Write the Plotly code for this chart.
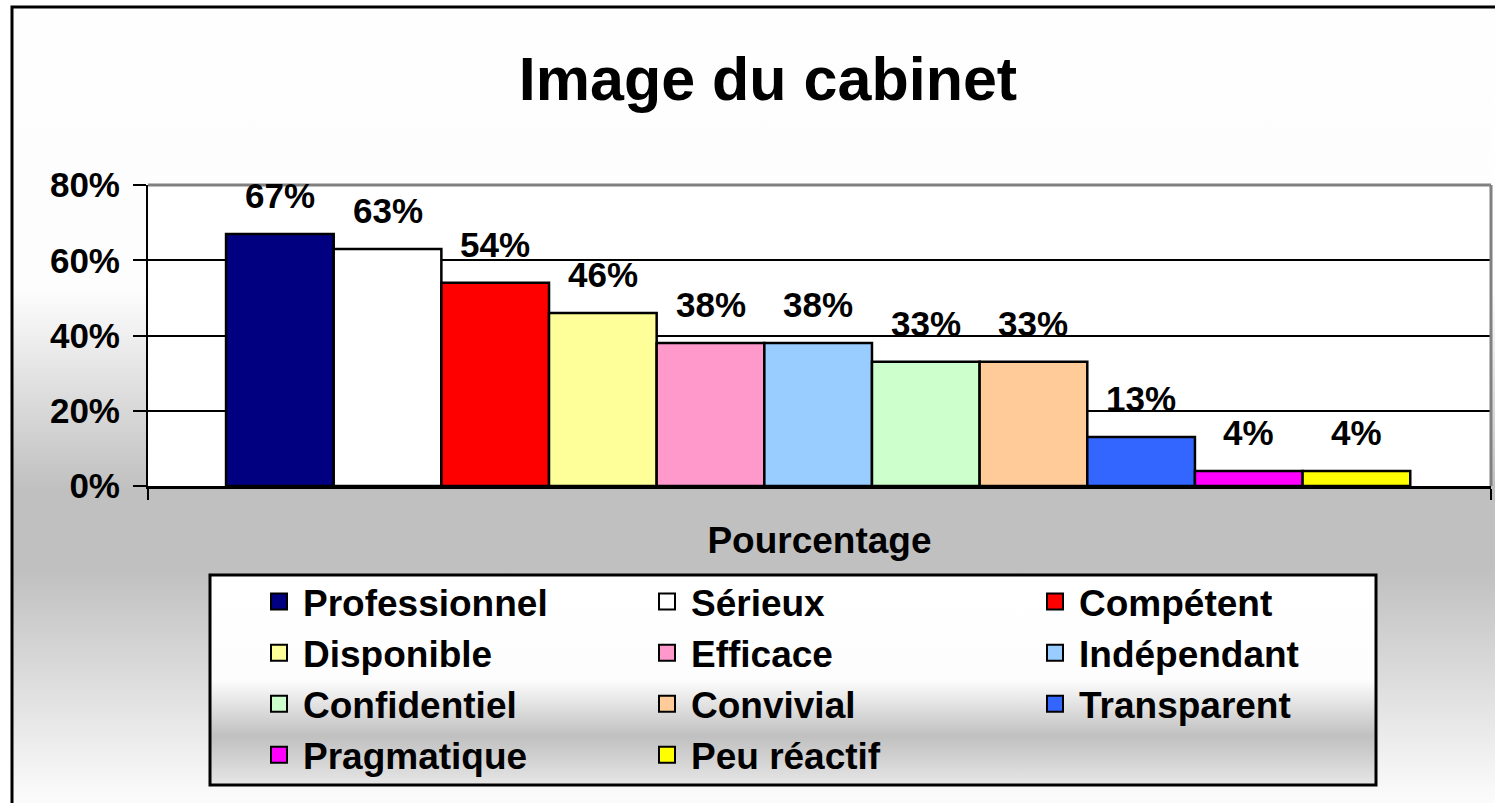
import base64
import plotly.graph_objects as go

# ---------------- data ----------------
categories = ["Professionnel", "Sérieux", "Compétent", "Disponible", "Efficace",
              "Indépendant", "Confidentiel", "Convivial", "Transparent",
              "Pragmatique", "Peu réactif"]
values = [0.67, 0.63, 0.54, 0.46, 0.38, 0.38, 0.33, 0.33, 0.13, 0.04, 0.04]
colors = ["#000080", "#FFFFFF", "#FF0000", "#FFFF99", "#FF99CC", "#99CCFF",
          "#CCFFCC", "#FFCC99", "#3366FF", "#FF00FF", "#FFFF00"]
y_tickvals = [0, 0.2, 0.4, 0.6, 0.8]
y_ticktext = ["0%", "20%", "40%", "60%", "80%"]
x_title = "Pourcentage"
chart_title = "Image du cabinet"

# ---------------- layout geometry (pixels) ----------------
W, H = 1495, 803
PL, PR, PT, PB = 148, 1491, 185, 486   # plot area edges
pw, ph = PR - PL, PB - PT
FONT = "Liberation Sans, Arial, sans-serif"


def px_x(x):
    return (x - PL) / pw


def px_y(y):
    return (PB - y) / ph


# background: framed gradient, white plot area, gradient legend box
svg = f'''<svg xmlns="http://www.w3.org/2000/svg" width="{W}" height="{H}" viewBox="0 0 {W} {H}" preserveAspectRatio="none">
<defs>
<linearGradient id="pg" gradientUnits="userSpaceOnUse" x1="0" y1="0" x2="0" y2="{H}">
<stop offset="0" stop-color="#fefefe"/>
<stop offset="{290/H:.4f}" stop-color="#fdfdfd"/>
<stop offset="{490/H:.4f}" stop-color="#c0c0c0"/>
<stop offset="{570/H:.4f}" stop-color="#c0c0c0"/>
<stop offset="{790/H:.4f}" stop-color="#f9f9f9"/>
<stop offset="1" stop-color="#fbfbfb"/>
</linearGradient>
<linearGradient id="lg" gradientUnits="userSpaceOnUse" x1="0" y1="575" x2="0" y2="785">
<stop offset="0" stop-color="#ffffff"/>
<stop offset="{(680-575)/210:.4f}" stop-color="#fdfdfd"/>
<stop offset="{(736-575)/210:.4f}" stop-color="#c0c0c0"/>
<stop offset="1" stop-color="#e6e6e6"/>
</linearGradient>
</defs>
<rect x="0" y="0" width="{W}" height="{H}" fill="#ffffff"/>
<rect x="12" y="7" width="1700" height="1000" fill="url(#pg)" stroke="#000000" stroke-width="3"/>
<rect x="{PL}" y="{PT}" width="{pw}" height="{ph}" fill="#ffffff"/>
<rect x="210" y="575" width="1166" height="210" fill="url(#lg)" stroke="#000000" stroke-width="3"/>
</svg>'''
bg_src = "data:image/svg+xml;base64," + base64.b64encode(svg.encode("utf-8")).decode("ascii")

fig = go.Figure()

# bars (one trace per category, as in the original series layout)
for cat, val, col in zip(categories, values, colors):
    fig.add_trace(go.Bar(
        x=[cat], y=[val], name=cat, showlegend=False,
        marker=dict(color=col, line=dict(color="black", width=2.5)),
        hoverinfo="skip",
    ))

# legend entries (square swatches)
for cat, col in zip(categories, colors):
    fig.add_trace(go.Scatter(
        x=[None], y=[None], mode="markers", name=cat,
        marker=dict(symbol="square", size=16, color=col,
                    line=dict(color="black", width=2)),
        hoverinfo="skip",
    ))

# value labels
annotations = []
for cat, val in zip(categories, values):
    annotations.append(dict(
        x=cat, y=val, xref="x", yref="y", text=f"{val:.0%}",
        showarrow=False, yanchor="bottom", yshift=17,
        font=dict(family=FONT, size=35, color="black", weight="bold"),
    ))

fig.update_layout(
    width=W, height=H,
    margin=dict(l=PL, r=W - PR, t=PT, b=H - PB, pad=0),
    paper_bgcolor="white",
    plot_bgcolor="rgba(0,0,0,0)",
    barmode="overlay",
    bargap=0,
    font=dict(family=FONT, color="black"),
    title=dict(text=chart_title, x=768 / W, xref="container", xanchor="center",
               y=1 - 79 / H, yref="container", yanchor="middle",
               font=dict(family=FONT, size=61, color="black", weight="bold")),
    showlegend=True,
    legend=dict(orientation="h", x=px_x(255), xanchor="left",
                y=px_y(571), yanchor="top",
                bgcolor="rgba(0,0,0,0)", borderwidth=0,
                itemwidth=38, entrywidth=335, entrywidthmode="pixels",
                traceorder="normal",
                font=dict(family=FONT, size=37, color="black", weight="bold")),
    images=[dict(source=bg_src, xref="paper", yref="paper",
                 x=px_x(0), y=px_y(0), sizex=W / pw, sizey=H / ph,
                 xanchor="left", yanchor="top", sizing="stretch",
                 layer="below")],
    shapes=[
        dict(type="line", xref="paper", yref="paper", x0=0, x1=1, y0=1, y1=1,
             line=dict(color="#808080", width=3), layer="above"),
        dict(type="line", xref="paper", yref="paper", x0=1, x1=1, y0=0, y1=1,
             line=dict(color="#808080", width=3), layer="above"),
    ],
    annotations=annotations,
)

fig.update_xaxes(
    type="category", categoryorder="array", categoryarray=categories,
    range=[-1.225, 11.25], fixedrange=True,
    showline=True, linecolor="black", linewidth=3,
    showgrid=False, zeroline=False,
    ticks="outside", ticklen=11, tickwidth=2, tickcolor="black",
    tickmode="array", tickvals=[-1.224, 11.249], showticklabels=False,
    title=dict(text=x_title, standoff=29,
               font=dict(family=FONT, size=37, color="black", weight="bold")),
)

fig.update_yaxes(
    range=[0, 0.8], fixedrange=True,
    tickmode="array", tickvals=y_tickvals, ticktext=y_ticktext,
    showline=True, linecolor="black", linewidth=2,
    showgrid=True, gridcolor="black", gridwidth=2, zeroline=False,
    ticks="outside", ticklen=13, tickwidth=2, tickcolor="black",
    ticklabelstandoff=6,
    tickfont=dict(family=FONT, size=35, color="black", weight="bold"),
)

fig.write_html("out.html",
               config={"displayModeBar": False, "staticPlot": True},
               post_script="document.body.style.margin='0';document.body.style.overflow='hidden';")
